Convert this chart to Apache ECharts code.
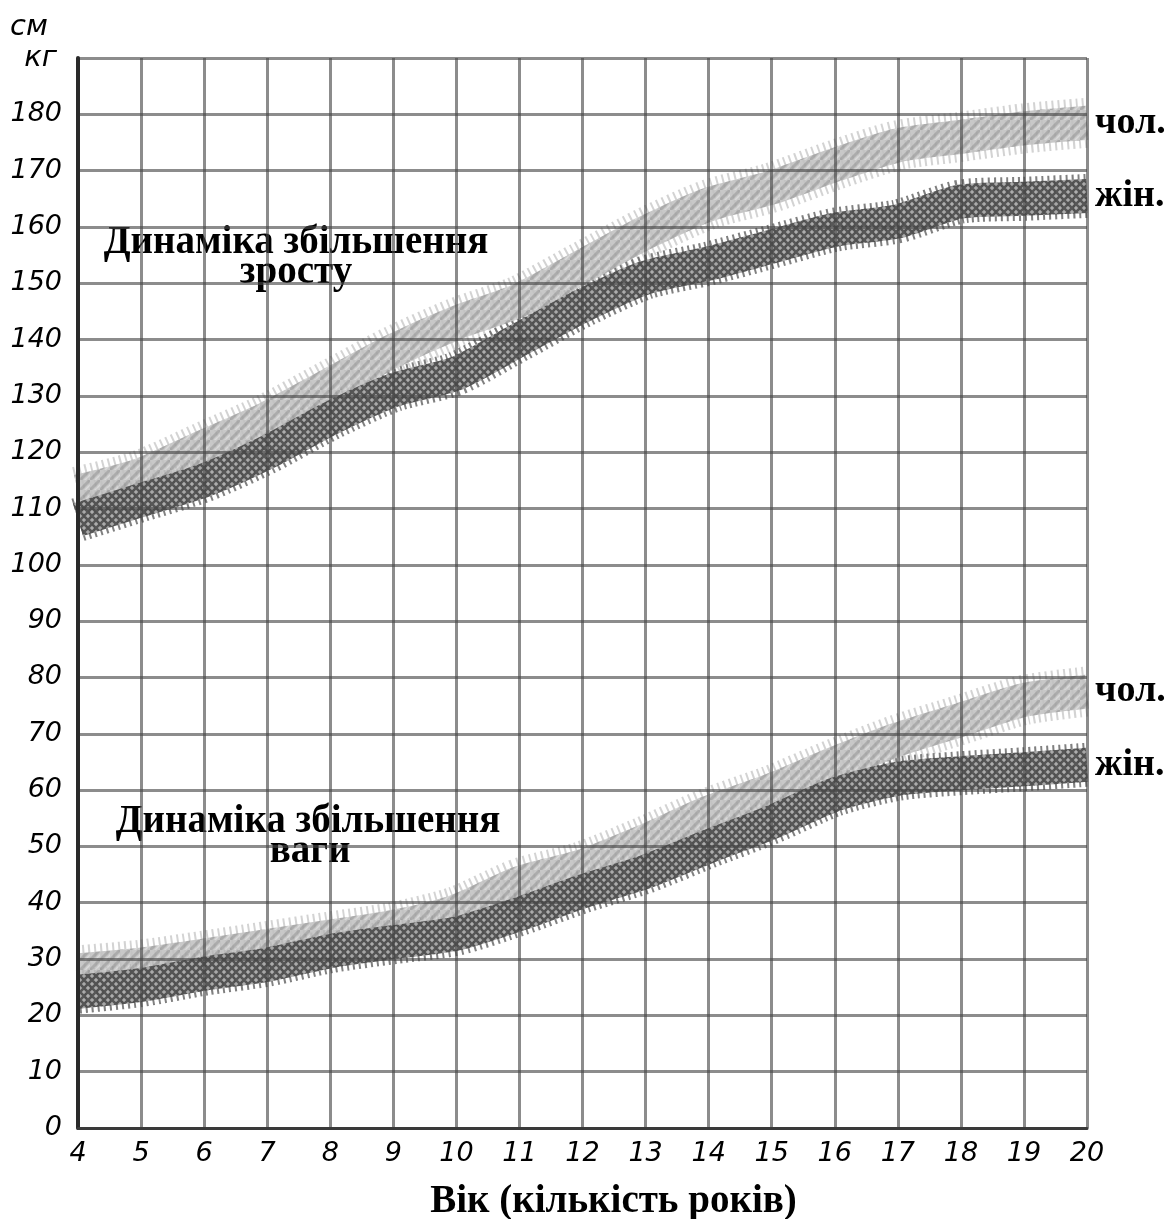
<!DOCTYPE html>
<html>
<head>
<meta charset="utf-8">
<script src="https://cdn.jsdelivr.net/npm/echarts@6/dist/echarts.min.js"></script>
<style>
  html, body { margin: 0; padding: 0; background: #fff; }
  #chart { width: 1169px; height: 1219px; }
</style>
</head>
<body>
<div id="chart"></div>
<script>
// вік, роки
const ages = [4, 5, 6, 7, 8, 9, 10, 11, 12, 13, 14, 15, 16, 17, 18, 19, 20];
// зріст, см
const maleHeight   = [113, 116, 121, 126, 132, 138, 143, 147, 153, 159, 164, 167, 171, 174.5, 176, 177.5, 178.5];
const femaleHeight = [108, 111.5, 115, 120, 126, 131, 134, 140, 146, 151, 153.5, 156.5, 159.5, 161, 164.5, 165, 165.5];
// вага, кг
const maleWeight   = [28, 29, 30.6, 32.3, 34, 35.7, 38.5, 43.5, 46.5, 51, 56, 60, 64.7, 69, 72.5, 76, 77.5];
const femaleWeight = [24.2, 25.4, 27.4, 29, 31.4, 33, 34.5, 38, 42, 45.5, 50, 54.3, 59.2, 62, 63, 63.7, 64.5];

const yMin = 0, yMax = 190, yStep = 10;

const pairs = vals => ages.map((a, i) => [a, vals[i]]);

// текстура для смуги (жін. - сітка, чол. - світлі півмісяці)
function makePattern(kind) {
  const c = document.createElement('canvas');
  const ctx = c.getContext('2d');
  if (kind === 'f') {
    c.width = 8; c.height = 8;
    ctx.fillStyle = '#a9a9a9';
    ctx.fillRect(0, 0, 8, 8);
    ctx.strokeStyle = '#4f4f4f';
    ctx.lineWidth = 2.6;
    ctx.beginPath();
    ctx.moveTo(-2, -2); ctx.lineTo(10, 10);
    ctx.moveTo(-2, 10); ctx.lineTo(10, -2);
    ctx.stroke();
  } else {
    c.width = 10; c.height = 10;
    ctx.fillStyle = '#c2c2c2';
    ctx.fillRect(0, 0, 10, 10);
    ctx.strokeStyle = '#a3a3a3';
    ctx.lineWidth = 3;
    ctx.beginPath();
    ctx.moveTo(-2, 12); ctx.lineTo(12, -2);
    ctx.stroke();
    ctx.strokeStyle = '#d8d8d8';
    ctx.lineWidth = 1.5;
    ctx.beginPath();
    ctx.moveTo(3, 12); ctx.lineTo(12, 3);
    ctx.stroke();
  }
  return { image: c, repeat: 'repeat' };
}

const femalePattern = makePattern('f');
const malePattern = makePattern('m');

const sideLabel = text => ({
  show: true,
  formatter: text,
  distance: 8,
  color: '#000',
  fontFamily: 'Liberation Serif',
  fontWeight: 'bold',
  fontSize: 38
});

function band(data, male, label) {
  return [
    { // зубчастий край
      type: 'line',
      data: data,
      smooth: 0.25,
      showSymbol: false,
      silent: true,
      z: 1,
      lineStyle: {
        width: male ? 50 : 44,
        color: male ? 'rgba(175,175,175,0.55)' : 'rgba(85,85,85,0.75)',
        type: [2, 4],
        cap: 'butt'
      }
    },
    {
      type: 'line',
      data: data,
      smooth: 0.25,
      showSymbol: false,
      silent: true,
      z: male ? 2 : 3,
      lineStyle: {
        width: 34,
        color: male ? malePattern : femalePattern,
        opacity: male ? 0.9 : 0.95
      },
      endLabel: sideLabel(label)
    }
  ];
}

const chart = echarts.init(document.getElementById('chart'));

const titleFont = 'bold 39px "Liberation Serif"';

chart.setOption({
  animation: false,
  grid: { left: 78, right: 82, top: 58, bottom: 91, outerBoundsMode: 'none' },
  xAxis: {
    type: 'value',
    min: 4,
    max: 20,
    interval: 1,
    z: 5,
    axisLine: { lineStyle: { color: '#3a3a3a', width: 3 } },
    axisTick: { show: false },
    splitLine: { lineStyle: { color: 'rgba(70,70,70,0.62)', width: 3 } },
    axisLabel: {
      margin: 12,
      color: '#000',
      fontFamily: 'DejaVu Sans',
      fontStyle: 'italic',
      fontSize: 27
    },
    name: 'Вік (кількість років)',
    nameLocation: 'middle',
    nameGap: 54,
    nameTextStyle: {
      color: '#000',
      fontFamily: 'Liberation Serif',
      fontWeight: 'bold',
      fontSize: 39,
      padding: [0, 0, 0, 62]
    }
  },
  yAxis: {
    type: 'value',
    min: yMin,
    max: yMax,
    interval: yStep,
    z: 5,
    axisLine: { show: true, lineStyle: { color: '#2a2a2a', width: 4 } },
    axisTick: { show: false },
    splitLine: { lineStyle: { color: 'rgba(70,70,70,0.62)', width: 3 } },
    axisLabel: {
      margin: 16,
      color: '#000',
      fontFamily: 'DejaVu Sans',
      fontStyle: 'italic',
      fontSize: 27,
      formatter: v => (v === yMax ? '{k|кг}' : String(v)),
      rich: {
        k: { fontFamily: 'DejaVu Sans', fontStyle: 'italic', fontSize: 29, color: '#000', padding: [0, 5, 0, 0] }
      }
    }
  },
  graphic: [
    { type: 'text', left: 10, top: 13, style: { text: 'см', font: 'italic 29px "DejaVu Sans"', fill: '#000' } },
    { type: 'text', x: 296, y: 243, style: { text: 'Динаміка збільшення', font: titleFont, fill: '#000', textAlign: 'center', textVerticalAlign: 'middle' } },
    { type: 'text', x: 296, y: 273, style: { text: 'зросту', font: titleFont, fill: '#000', textAlign: 'center', textVerticalAlign: 'middle' } },
    { type: 'text', x: 308, y: 822, style: { text: 'Динаміка збільшення', font: titleFont, fill: '#000', textAlign: 'center', textVerticalAlign: 'middle' } },
    { type: 'text', x: 310, y: 852, style: { text: 'ваги', font: titleFont, fill: '#000', textAlign: 'center', textVerticalAlign: 'middle' } }
  ],
  series: [].concat(
    band(pairs(maleHeight), true, 'чол.'),
    band(pairs(femaleHeight), false, 'жін.'),
    band(pairs(maleWeight), true, 'чол.'),
    band(pairs(femaleWeight), false, 'жін.')
  )
});

window.addEventListener('resize', function () {
  chart.resize();
});
</script>
</body>
</html>
